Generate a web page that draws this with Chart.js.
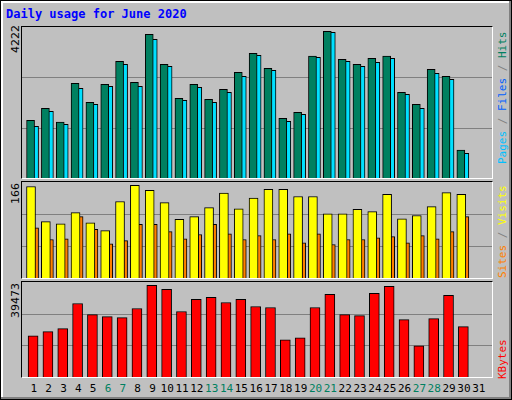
<!DOCTYPE html>
<html><head><meta charset="utf-8">
<script src="https://cdn.jsdelivr.net/npm/chart.js@4"></script>
<style>
body{margin:0;background:#fff}
#f{position:absolute;left:0;top:0;width:510px;height:398px;background:#c0c0c0;border:1px solid #000;box-shadow:inset -2px -2px 0 #808080, inset 2px 2px 0 #fff;font-family:"DejaVu Sans Mono",monospace}
.p{position:absolute;border-top:1px solid #000;border-left:1px solid #000;border-right:1px solid #fff;border-bottom:1px solid #fff}
.p canvas{position:absolute;left:0;top:0}
.t{position:absolute;font-size:11px;white-space:nowrap}
.r{position:absolute;transform:rotate(-90deg);transform-origin:0 0;font-size:11px;white-space:nowrap}
</style></head><body>
<div id="f">
<div class="t" style="left:5px;top:6px;color:#0000ff;font-weight:bold;font-size:12px">Daily usage for June 2020</div>
<div class="p" style="left:20px;top:25px;width:470px;height:151px"><canvas id="c1"></canvas></div>
<div class="p" style="left:20px;top:180px;width:470px;height:96px"><canvas id="c2"></canvas></div>
<div class="p" style="left:20px;top:280px;width:470px;height:95px"><canvas id="c3"></canvas></div>
<div class="r" style="left:8px;top:52px;font-family:'DejaVu Sans';">4222</div>
<div class="r" style="left:8px;top:203px;font-family:'DejaVu Sans';">166</div>
<div class="r" style="left:8px;top:317px;font-family:'DejaVu Sans';">39473</div>
<div class="r" style="left:495px;top:163px"><span style="color:#00c0ff">Pages</span><span style="color:#808080"> / </span><span style="color:#0060ff">Files</span><span style="color:#808080"> / </span><span style="color:#008060">Hits</span></div>
<div class="r" style="left:495px;top:277px"><span style="color:#ff8000">Sites</span><span style="color:#808080"> / </span><span style="color:#ffff00">Visits</span></div>
<div class="r" style="left:495px;top:378px"><span style="color:#ff0000">KBytes</span></div>
<div id="xl"></div>
</div>
<script>
const days=[1,2,3,4,5,6,7,8,9,10,11,12,13,14,15,16,17,18,19,20,21,22,23,24,25,26,27,28,29,30,31];
const weekend=[6,7,13,14,20,21,27,28];
const hits=[1661,2006,1613,2726,2179,2698,3360,2755,4138,3274,2294,2698,2266,2554,3043,3590,3158,1718,1891,3514,4222,3418,3274,3446,3514,2467,2122,3130,2928,806];
const files=[1488,1920,1546,2582,2122,2640,3274,2640,3994,3216,2237,2611,2179,2467,2928,3533,3101,1632,1834,3475,4195,3360,3216,3331,3446,2410,2006,3014,2842,710];
const pages=[1066,1210,1210,2640,2122,2390,2650,2045,3254,2880,2189,2611,1613,1901,2650,2813,2304,1008,1066,2765,3427,2563,2477,3110,2995,1555,1267,2333,2448,710];
const sites=[164,101,97,117,99,85,137,166,157,135,105,110,126,152,124,143,159,159,146,146,115,115,123,119,150,106,112,128,153,150];
const visits=[90,69,70,110,87,61,67,96,96,83,70,78,96,79,69,76,69,79,63,79,60,69,69,72,74,63,76,70,83,110];
const kbytes=[17786,19521,20822,31667,26896,26028,25594,29498,39473,37741,28197,33403,34270,32101,33403,30366,29932,16051,16918,29932,35572,26896,26462,36005,39042,24727,13448,25160,35138,21690];

const XMIN=0.123, XMAX=31.8;
const xl=document.getElementById('xl');
days.forEach(d=>{const s=document.createElement('div');s.className='t';s.textContent=d;
 s.style.left=(20+(d-XMIN)/(XMAX-XMIN)*470-(d>9?7:3.5))+'px';s.style.top='381px';
 s.style.color=weekend.includes(d)?'#008060':'#000';xl.appendChild(s);});

const gridPlugin={id:'g',beforeDatasetsDraw(c){const y=c.scales.y,ctx=c.ctx;ctx.save();ctx.strokeStyle='#808080';ctx.lineWidth=1;
 [y.max/3,2*y.max/3].forEach(v=>{const p=Math.round(y.getPixelForValue(v))+0.5;ctx.beginPath();ctx.moveTo(0,p);ctx.lineTo(c.width,p);ctx.stroke();});ctx.restore();}};
function ds(arr,off,color,w){return{data:arr.map((v,i)=>({x:i+1+off,y:v})),backgroundColor:color,borderColor:'#000',borderWidth:1,barThickness:w,borderSkipped:'bottom'};}
function mk(id,sets,max){
 const cv=document.getElementById(id);
 new Chart(cv,{type:'bar',data:{datasets:sets},plugins:[gridPlugin],
  options:{responsive:false,animation:false,devicePixelRatio:1,layout:{padding:0},
   plugins:{legend:{display:false},tooltip:{enabled:false}},
   datasets:{bar:{grouped:false}},
   scales:{x:{type:'linear',min:XMIN,max:XMAX,offset:false,bounds:'ticks',display:false},y:{min:0,max:max,display:false}}}});
}
for(const [id,h] of [['c1',151],['c2',96],['c3',95]]){const c=document.getElementById(id);c.width=470;c.height=h;c.style.width='470px';c.style.height=h+'px';}
mk('c1',[ds(hits,-0.3,'#008060',8),ds(files,-0.03,'#00e0ff',8),ds(pages,-0.4,'#0040ff',2)],4349);
mk('c2',[ds(sites,-0.27,'#ffff00',9),ds(visits,-0.03,'#ff8000',8)],172);
mk('c3',[ds(kbytes,-0.13,'#ff0000',10)],40920);
</script></body></html>
